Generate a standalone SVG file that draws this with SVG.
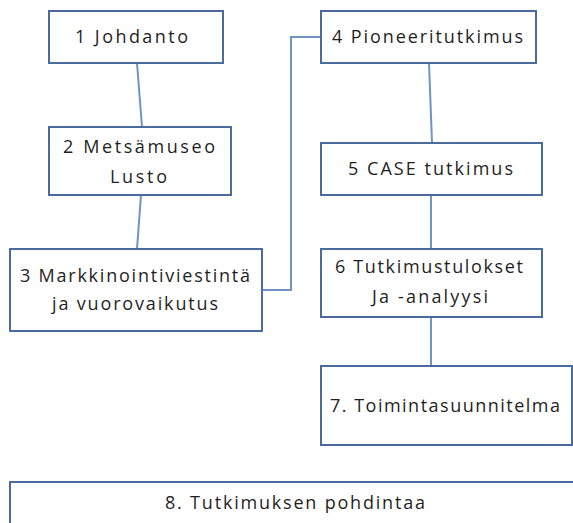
<svg xmlns="http://www.w3.org/2000/svg" width="573" height="523" viewBox="0 0 573 523">
<style>
.box{fill:#ffffff;stroke:#4a6c9b;stroke-width:2}
.t{font-family:"Open Sans","Noto Sans","Liberation Sans",sans-serif;font-size:18px;fill:#1f1f1f;text-anchor:middle}
.c{fill:none;stroke:#6f93c4;stroke-width:2}
</style>
<rect width="573" height="523" fill="#ffffff"/>
<g id="connectors">
<line class="c" x1="137" y1="63" x2="142" y2="127"/>
<line class="c" x1="141" y1="195" x2="137" y2="249"/>
<polyline class="c" points="262,290 291,290 291,37 321,37"/>
<line class="c" x1="429" y1="63" x2="432" y2="143"/>
<line class="c" x1="431" y1="195" x2="431" y2="249"/>
<line class="c" x1="431" y1="317" x2="431" y2="366"/>
</g>
<g id="n1"><rect class="box" x="49" y="11" width="174" height="52"/><text class="t" x="131.5" y="43" textLength="113" lengthAdjust="spacing">1 Johdanto</text></g>
<g id="n2"><rect class="box" x="49" y="127" width="182" height="68"/><text class="t" x="139" y="153" textLength="152" lengthAdjust="spacing">2 Metsämuseo</text><text class="t" x="138.5" y="183" textLength="57" lengthAdjust="spacing">Lusto</text></g>
<g id="n3"><rect class="box" x="10" y="249" width="252" height="82"/><text class="t" x="135" y="282" textLength="230" lengthAdjust="spacing">3 Markkinointiviestintä</text><text class="t" x="135" y="310" textLength="166" lengthAdjust="spacing">ja vuorovaikutus</text></g>
<g id="n4"><rect class="box" x="321" y="11" width="215" height="52"/><text class="t" x="427.5" y="43" textLength="191" lengthAdjust="spacing">4 Pioneeritutkimus</text></g>
<g id="n5"><rect class="box" x="321" y="143" width="221" height="52"/><text class="t" x="430.5" y="175" textLength="165" lengthAdjust="spacing">5 CASE tutkimus</text></g>
<g id="n6"><rect class="box" x="321" y="249" width="221" height="68"/><text class="t" x="429" y="273" textLength="188" lengthAdjust="spacing">6 Tutkimustulokset</text><text class="t" x="430" y="303" textLength="116" lengthAdjust="spacing">Ja -analyysi</text></g>
<g id="n7"><rect class="box" x="321" y="366" width="251" height="79"/><text class="t" x="445" y="412" textLength="230" lengthAdjust="spacing">7. Toimintasuunnitelma</text></g>
<g id="n8"><rect class="box" x="10" y="482" width="575" height="60"/><text class="t" x="295" y="509" textLength="260" lengthAdjust="spacing">8. Tutkimuksen pohdintaa</text></g>
</svg>
